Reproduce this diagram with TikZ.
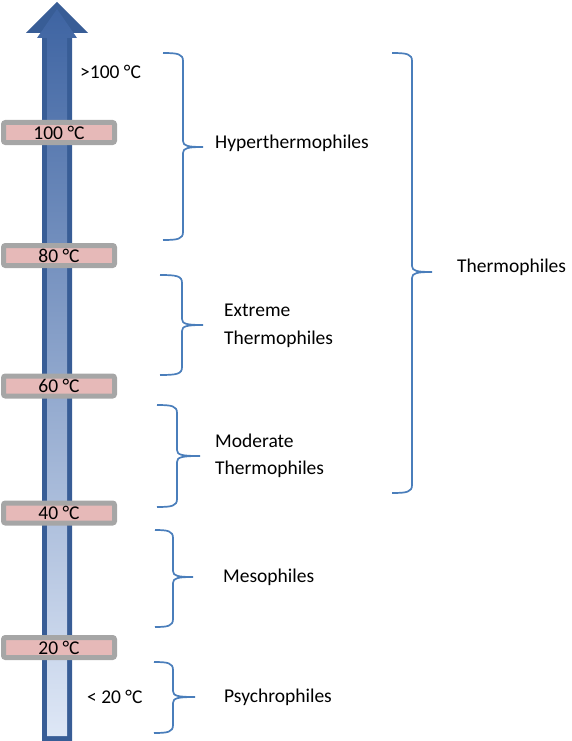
\documentclass[tikz,border=0pt]{standalone}
\usepackage{fontspec}
\setmainfont{Carlito}
\definecolor{arrdark}{RGB}{56,93,150}
\definecolor{arrtop}{RGB}{62,100,162}
\definecolor{arrmid}{RGB}{160,182,222}
\definecolor{arrbot}{RGB}{222,231,246}
\definecolor{bargray}{RGB}{166,166,166}
\definecolor{barpink}{RGB}{230,185,184}
\definecolor{brblue}{RGB}{74,126,187}
\newcommand{\cbrace}[6]{% xl, xv, xt, ytop, ymid, ybot
  \draw[bracestyle] (#1,#4) .. controls (#2-5,#4) and (#2,#4+1) .. (#2,#4+8)
    -- (#2,#5-6) .. controls (#2,#5-1) and (#2+5,#5) .. (#3,#5)
    (#3,#5) .. controls (#2+5,#5) and (#2,#5+1) .. (#2,#5+6)
    -- (#2,#6-8) .. controls (#2,#6-1) and (#2-5,#6) .. (#1,#6);}
\tikzset{
  bracestyle/.style={draw=brblue, line width=1.7pt},
  tempbar/.style={draw=bargray, line width=5pt, fill=barpink, rounded corners=2pt,
    minimum width=111pt, minimum height=20pt, inner sep=0pt, font=\fontsize{19.5}{21}\selectfont},
  lbl/.style={anchor=west, inner sep=0pt, align=left, font=\fontsize{19.5}{27.5}\selectfont}
}
\begin{document}
\begin{tikzpicture}[x=1pt,y=-1pt]
\useasboundingbox (0,0) rectangle (572,741);
% arrow
\fill[arrdark] (42,745) -- (42,33) -- (26,33) -- (57,2) -- (88,33) -- (72,33) -- (72,745) -- cycle;
\shade[top color=arrtop, middle color=arrmid, bottom color=arrbot]
  (47,736) -- (47,38) -- (37,38) -- (57,9) -- (77,38) -- (67,38) -- (67,736) -- cycle;
% temperature bars
\node[tempbar] (t100) at (59,132.5) {100 °C};
\node[tempbar] (t80) at (59,255.5) {80 °C};
\node[tempbar] (t60) at (59,386) {60 °C};
\node[tempbar] (t40) at (59,513) {40 °C};
\node[tempbar] (t20) at (59,647.5) {20 °C};
% side labels
\node[lbl] (gt100) at (80,72) {>100 °C};
\node[lbl] (lt20) at (87,697) {< 20 °C};
% braces
\cbrace{163}{183}{203}{53}{147}{240}
\cbrace{160}{182}{203}{275}{325}{375}
\cbrace{157}{177}{200}{405}{456}{507}
\cbrace{155}{173}{193}{530}{577}{627}
\cbrace{154}{173}{195}{662}{697}{733}
\cbrace{392}{412}{432}{53}{272}{493}
% group labels
\node[lbl] (hyper) at (215,143) {Hyperthermophiles};
\node[lbl] (extreme) at (224,326) {Extreme\\Thermophiles};
\node[lbl] (moderate) at (215,456) {Moderate\\Thermophiles};
\node[lbl] (meso) at (223,577) {Mesophiles};
\node[lbl] (psychro) at (224,697) {Psychrophiles};
\node[lbl] (thermo) at (457,267) {Thermophiles};
\end{tikzpicture}
\end{document}
